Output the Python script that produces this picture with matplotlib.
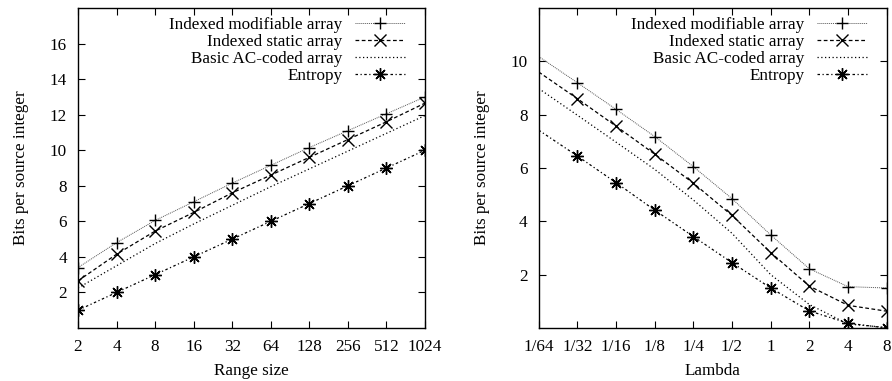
import numpy as np
import matplotlib
matplotlib.use("Agg")
from matplotlib import pyplot as plt

plt.rcParams["font.family"] = ["Liberation Serif", "DejaVu Serif"]
plt.rcParams["font.size"] = 12.3

# left panel: range size
range_size = [2, 4, 8, 16, 32, 64, 128, 256, 512, 1024]
range_labels = ["2", "4", "8", "16", "32", "64", "128", "256", "512", "1024"]
rs_modifiable = [3.4, 4.8, 6.05, 7.1, 8.15, 9.15, 10.15, 11.1, 12.05, 13.0]
rs_static = [2.65, 4.15, 5.45, 6.5, 7.6, 8.6, 9.6, 10.6, 11.6, 12.65]
rs_basic = [2.25, 3.5, 4.75, 5.85, 6.9, 7.95, 8.95, 9.95, 10.95, 11.95]
rs_entropy = [1, 2, 3, 4, 5, 6, 7, 8, 9, 10]

# right panel: lambda
lam = [1 / 64, 1 / 32, 1 / 16, 1 / 8, 1 / 4, 1 / 2, 1, 2, 4, 8]
lam_labels = ["1/64", "1/32", "1/16", "1/8", "1/4", "1/2", "1", "2", "4", "8"]
lam_modifiable = [10.18, 9.2, 8.2, 7.18, 6.05, 4.85, 3.49, 2.22, 1.55, 1.5]
lam_static = [9.6, 8.6, 7.57, 6.52, 5.43, 4.22, 2.83, 1.57, 0.85, 0.63]
lam_basic = [8.98, 7.98, 6.97, 5.95, 4.8, 3.55, 2.0, 0.88, 0.15, 0.02]
lam_entropy = [7.42, 6.45, 5.45, 4.42, 3.43, 2.45, 1.5, 0.64, 0.18, 0.0]

names = ["Indexed modifiable array", "Indexed static array",
         "Basic AC-coded array", "Entropy"]
styles = [
    dict(ls=(0, (1, 1)), lw=0.7, color="#555555", marker="+"),
    dict(ls=(0, (3, 2)), lw=0.9, color="black", marker="x"),
    dict(ls=(0, (1, 2)), lw=0.9, color="black", marker=None),
    dict(ls=(0, (2, 2, 1, 2)), lw=0.9, color="black", marker=(8, 2, 0)),
]


def panel(ax, x, series, labels, ylim, yticks, xlabel, skip_first):
    mev = slice(1, None) if skip_first else None
    for name, y, st in zip(names, series, styles):
        ax.plot(x, y, label=name, ls=st["ls"], lw=st["lw"], color=st["color"],
                marker=st["marker"], markersize=9, markeredgewidth=1.0,
                markeredgecolor="black", markevery=mev)
    ax.set_xscale("log", base=2)
    ax.set_xlim(x[0], x[-1])
    ax.set_xticks(x)
    ax.set_xticklabels(labels)
    ax.minorticks_off()
    ax.set_ylim(*ylim)
    ax.set_yticks(yticks)
    ax.tick_params(direction="in", length=5, width=0.8, top=True, right=True,
                   pad=8, labelsize=12.3)
    for s in ax.spines.values():
        s.set_linewidth(1.0)
    ax.set_xlabel(xlabel, labelpad=6)
    ax.set_ylabel("Bits per source integer", labelpad=15)
    ax.legend(loc="upper right", bbox_to_anchor=(0.962, 0.993),
              frameon=False, markerfirst=False,
              handlelength=2.9, handletextpad=0.75, labelspacing=0.05,
              borderaxespad=0, borderpad=0.4, fontsize=12.3)


fig = plt.figure(figsize=(8.92, 3.81), dpi=100)
ax1 = fig.add_axes([78 / 892, 53 / 381, 347 / 892, 320 / 381])
ax2 = fig.add_axes([538.7 / 892, 53 / 381, 348 / 892, 320 / 381])

panel(ax1, range_size, [rs_modifiable, rs_static, rs_basic, rs_entropy],
      range_labels, (0, 18), range(2, 17, 2), "Range size", False)
panel(ax2, lam, [lam_modifiable, lam_static, lam_basic, lam_entropy],
      lam_labels, (0, 12), range(2, 11, 2), "Lambda", True)

fig.savefig("out.png", dpi=100)
